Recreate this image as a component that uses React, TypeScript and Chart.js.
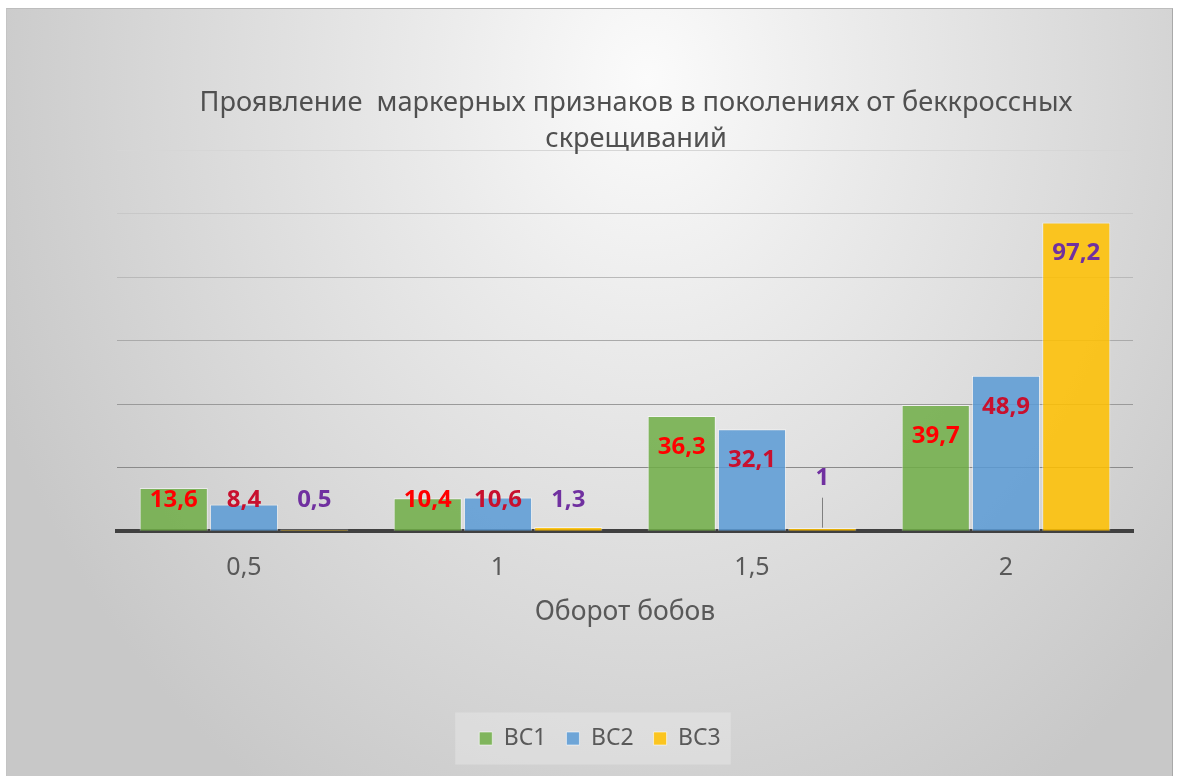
import React, { useEffect, useRef } from "react";
import { Chart, registerables } from "chart.js";

Chart.register(...registerables);

const categories = ["0,5", "1", "1,5", "2"];
const seriesNames = ["BC1", "BC2", "BC3"];
const bc1Values = [13.6, 10.4, 36.3, 39.7];
const bc2Values = [8.4, 10.6, 32.1, 48.9];
const bc3Values = [0.5, 1.3, 1, 97.2];
const yTickValues = [0, 20, 40, 60, 80, 100, 120];
const titleLines = [
  "Проявление  маркерных признаков в поколениях от беккроссных",
  "скрещиваний",
];
const xAxisTitle = "Оборот бобов";

const FONT = "'Noto Sans', 'DejaVu Sans', sans-serif";
const barColors = ["rgba(112,173,71,0.86)", "rgba(91,155,213,0.86)", "rgba(255,192,0,0.86)"];
const labelColors = ["#ff0000", "#c8102e", "#7030a0"];
const gridShades = ["rgba(0,0,0,0)", "#8a8a8a", "#9a9a9a", "#aaaaaa", "#b9b9b9", "#c8c8c8", "#d6d6d6"];
// label that Excel moved up with a leader line: [datasetIndex, dataIndex]
const leaderLabel = [2, 2];

const fmt = (v: number) => String(v).replace(".", ",");

const titlePlugin = {
  id: "customTitle",
  afterDraw(chart: any) {
    const { ctx } = chart;
    ctx.save();
    ctx.fillStyle = "#505050";
    ctx.font = `27.2px ${FONT}`;
    ctx.textAlign = "center";
    ctx.textBaseline = "alphabetic";
    ctx.fillText(titleLines[0], 629, 102);
    ctx.fillText(titleLines[1], 629, 138);
    ctx.restore();
  },
};

const legendBoxPlugin = {
  id: "legendBox",
  beforeDraw(chart: any) {
    const lg = chart.legend;
    if (!lg || !lg.legendHitBoxes || !lg.legendHitBoxes.length) return;
    const hb = lg.legendHitBoxes;
    const left = hb[0].left - 24;
    const right = hb[hb.length - 1].left + hb[hb.length - 1].width + 10;
    const cy = hb[0].top + hb[0].height / 2;
    const { ctx } = chart;
    ctx.save();
    ctx.fillStyle = "rgba(240,240,240,0.35)";
    ctx.fillRect(left, cy - 26, right - left, 52);
    ctx.restore();
  },
};

const dataLabelPlugin = {
  id: "dataLabels",
  afterDatasetsDraw(chart: any) {
    const { ctx } = chart;
    ctx.save();
    ctx.font = `bold 24px ${FONT}`;
    ctx.textAlign = "center";
    ctx.textBaseline = "middle";
    chart.data.datasets.forEach((ds: any, di: number) => {
      const meta = chart.getDatasetMeta(di);
      meta.data.forEach((el: any, i: number) => {
        const v = ds.data[i];
        const top = el.y;
        const base = el.base;
        let y = Math.min(top + 31, base - 31);
        if (di === leaderLabel[0] && i === leaderLabel[1]) {
          y = base - 53;
          ctx.strokeStyle = "#7f7f7f";
          ctx.lineWidth = 1;
          ctx.beginPath();
          ctx.moveTo(Math.round(el.x) + 0.5, base - 33);
          ctx.lineTo(Math.round(el.x) + 0.5, base - 3);
          ctx.stroke();
        }
        ctx.fillStyle = labelColors[di];
        ctx.fillText(fmt(v), el.x, y);
      });
    });
    ctx.restore();
  },
};

export default function App() {
  const ref = useRef<HTMLCanvasElement | null>(null);

  useEffect(() => {
    if (!ref.current) return;
    const values = [bc1Values, bc2Values, bc3Values];
    const chart = new Chart(ref.current, {
      type: "bar",
      data: {
        labels: categories,
        datasets: seriesNames.map((name, i) => ({
          label: name,
          data: values[i],
          backgroundColor: barColors[i],
          borderColor: "rgba(255,255,255,0.55)",
          borderWidth: 1,
          categoryPercentage: 0.83,
          barPercentage: 0.97,
        })),
      },
      options: {
        animation: false,
        responsive: false,
        layout: { padding: { left: 60, right: 39, top: 141, bottom: 17 } },
        plugins: {
          title: { display: false },
          tooltip: { enabled: false },
          legend: {
            display: true,
            position: "bottom",
            labels: {
              boxWidth: 13,
              boxHeight: 13,
              padding: 20,
              color: "#595959",
              font: { family: FONT, size: 23 },
            },
          },
        },
        scales: {
          x: {
            grid: { display: false, drawTicks: false },
            border: { display: true, color: "#404040", width: 4 },
            ticks: { color: "#595959", padding: 22, font: { family: FONT, size: 25 } },
            title: {
              display: true,
              text: xAxisTitle,
              color: "#595959",
              font: { family: FONT, size: 26.5 },
              padding: { top: -9, bottom: 79 },
            },
          },
          y: {
            min: 0,
            max: 120,
            afterBuildTicks: (s: any) => {
              s.ticks = yTickValues.map((v) => ({ value: v }));
            },
            afterFit: (s: any) => {
              s.width = 50;
            },
            ticks: { display: false },
            grid: {
              drawTicks: false,
              color: (c: any) => gridShades[c.index] || "#aaaaaa",
              lineWidth: 1,
            },
            border: { display: false },
          },
        },
      },
      plugins: [legendBoxPlugin, dataLabelPlugin, titlePlugin],
    });
    return () => chart.destroy();
  }, []);

  return (
    <div
      style={{
        position: "fixed",
        left: 6,
        top: 8,
        width: 1165,
        height: 768,
        borderTop: "1px solid #bdbdbd",
        borderLeft: "1px solid #c4c4c4",
        borderRight: "1px solid #a9a9a9",
        background:
          "radial-gradient(ellipse 700px 850px at 640px 70px, #fbfbfb 0%, #ebebeb 30%, #dcdcdc 60%, #c8c8c8 100%)",
      }}
    >
      <canvas ref={ref} width={1165} height={768} style={{ display: "block" }} />
    </div>
  );
}
